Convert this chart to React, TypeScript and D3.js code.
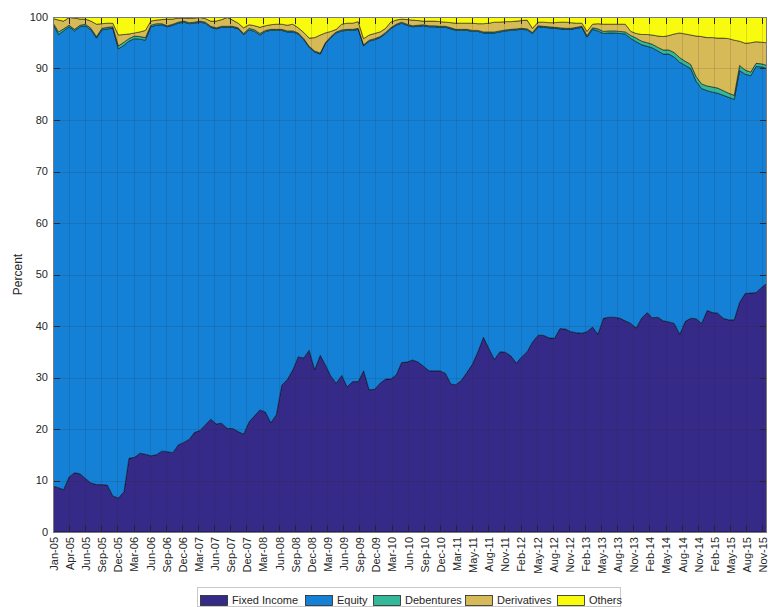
import React from 'react';
import * as d3 from 'd3';

// shares of the fund portfolio, monthly Jan-05 .. Dec-15 (percent)
const seriesNames = ['Fixed Income', 'Equity', 'Debentures', 'Derivatives', 'Others'];
const seriesColors = ['#352a87', '#1481d6', '#33b89a', '#d6ba58', '#f9fb0e'];

const fixedIncome = [
  8.9, 8.6, 8.2, 10.7, 11.5, 11.3, 10.4, 9.5, 9.2, 9.2, 9.1, 7.0,
  6.6, 7.8, 14.3, 14.5, 15.3, 15.1, 14.8, 15.0, 15.7, 15.6, 15.4, 16.9,
  17.4, 18.0, 19.3, 19.7, 20.8, 21.9, 21.0, 21.1, 20.1, 20.1, 19.5, 19.0,
  21.4, 22.6, 23.7, 23.3, 21.2, 22.8, 28.5, 29.6, 31.5, 34.0, 33.8, 35.3,
  31.5, 34.3, 32.5, 30.3, 28.9, 30.4, 28.2, 29.2, 29.2, 31.3, 27.6, 27.7,
  28.9, 29.7, 29.7, 30.5, 32.9, 33.0, 33.4, 33.0, 32.2, 31.3, 31.3, 31.3,
  30.8, 28.7, 28.6, 29.5, 31.0, 32.6, 35.0, 37.8, 35.6, 33.5, 35.0, 34.9,
  34.2, 32.8, 34.0, 35.0, 36.9, 38.2, 38.2, 37.7, 37.6, 39.5, 39.4, 38.9,
  38.7, 38.6, 38.9, 39.8, 38.4, 41.5, 41.7, 41.7, 41.5, 41.0, 40.5, 39.6,
  41.6, 42.6, 41.6, 41.7, 41.0, 40.8, 40.5, 38.4, 40.9, 41.5, 41.4, 40.5,
  43.0, 42.6, 42.5, 41.5, 41.2, 41.2, 44.6, 46.3, 46.4, 46.5, 47.5, 48.3,
];

const equity = [
  89.7, 88.0, 89.1, 87.4, 85.8, 86.8, 87.9, 88.0, 86.7, 88.3, 88.6, 90.8,
  87.2, 86.7, 81.0, 81.3, 80.4, 80.4, 83.3, 83.4, 82.8, 82.5, 83.0, 81.9,
  81.6, 80.7, 79.5, 79.3, 78.0, 76.1, 76.7, 76.9, 77.9, 77.9, 78.2, 77.6,
  76.1, 74.6, 72.8, 73.9, 76.2, 74.6, 68.9, 67.5, 65.6, 62.7, 61.8, 58.8,
  61.7, 58.5, 62.3, 65.7, 68.0, 66.9, 69.2, 68.2, 68.4, 63.1, 67.7, 67.9,
  67.1, 67.1, 68.0, 67.9, 65.9, 65.4, 64.7, 65.2, 66.1, 66.8, 66.8, 66.7,
  67.2, 69.0, 68.8, 67.9, 66.4, 64.6, 62.2, 59.1, 61.3, 63.4, 62.1, 62.4,
  63.2, 64.7, 63.6, 62.5, 59.9, 59.9, 59.8, 60.2, 60.2, 58.2, 58.2, 58.7,
  59.1, 59.4, 57.2, 57.8, 58.9, 55.3, 55.2, 55.2, 55.3, 55.7, 55.3, 55.6,
  53.0, 51.7, 52.4, 51.7, 51.8, 52.0, 51.7, 52.8, 49.7, 48.5, 46.1, 45.6,
  42.7, 42.8, 42.7, 43.3, 43.2, 42.8, 45.0, 42.6, 42.2, 43.9, 42.8, 41.7,
];

const debentures = [
  0.3, 0.5, 0.4, 0.3, 0.3, 0.3, 0.3, 0.3, 0.3, 0.3, 0.3, 0.3,
  0.6, 0.6, 0.5, 0.5, 0.5, 0.5, 0.3, 0.3, 0.2, 0.2, 0.2, 0.2,
  0.2, 0.2, 0.2, 0.2, 0.2, 0.2, 0.2, 0.2, 0.2, 0.2, 0.2, 0.2,
  0.3, 0.3, 0.3, 0.2, 0.2, 0.2, 0.2, 0.2, 0.2, 0.2, 0.2, 0.2,
  0.2, 0.2, 0.2, 0.2, 0.2, 0.2, 0.2, 0.2, 0.2, 0.2, 0.2, 0.2,
  0.2, 0.2, 0.2, 0.2, 0.2, 0.2, 0.2, 0.2, 0.2, 0.2, 0.2, 0.2,
  0.2, 0.2, 0.2, 0.2, 0.2, 0.2, 0.2, 0.2, 0.2, 0.2, 0.2, 0.2,
  0.2, 0.2, 0.2, 0.2, 0.2, 0.2, 0.2, 0.2, 0.2, 0.2, 0.2, 0.2,
  0.2, 0.2, 0.3, 0.3, 0.4, 0.4, 0.4, 0.4, 0.4, 0.4, 0.6, 0.7,
  0.7, 0.7, 0.7, 0.7, 0.8, 0.8, 0.9, 0.9, 0.8, 0.8, 0.9, 0.9,
  0.9, 1.0, 1.0, 0.9, 0.8, 0.8, 1.0, 0.8, 0.7, 0.6, 0.6, 0.6,
];

const derivatives = [
  0.8, 2.3, 1.5, 1.5, 2.2, 1.2, 1.0, 1.4, 2.4, 0.9, 0.8, 0.7,
  2.1, 1.5, 0.9, 0.6, 0.9, 1.4, 0.8, 0.7, 0.8, 1.3, 1.0, 0.8,
  0.6, 0.8, 0.8, 0.7, 0.7, 1.0, 1.3, 1.3, 1.7, 1.2, 0.9, 1.1,
  0.7, 0.8, 1.2, 0.9, 0.9, 1.0, 1.0, 1.1, 1.3, 1.0, 1.2, 1.6,
  2.6, 3.5, 1.9, 1.0, 0.5, 1.1, 1.2, 1.2, 1.3, 1.2, 1.0, 1.0,
  0.9, 0.8, 1.1, 0.8, 0.6, 0.9, 1.1, 0.9, 0.7, 0.9, 0.9, 0.9,
  0.8, 1.0, 1.2, 1.2, 1.2, 1.4, 1.3, 1.6, 1.7, 1.9, 1.7, 1.6,
  1.5, 1.5, 1.5, 1.7, 0.8, 0.7, 0.8, 0.8, 0.9, 1.1, 1.2, 1.1,
  0.8, 0.6, 0.8, 0.7, 1.0, 1.4, 1.3, 1.3, 1.4, 1.5, 0.8, 0.9,
  1.3, 1.6, 1.8, 2.2, 2.6, 2.8, 3.6, 4.8, 5.3, 5.7, 7.9, 9.2,
  9.4, 9.6, 9.7, 10.2, 10.6, 10.7, 4.7, 5.2, 5.7, 4.2, 4.2, 4.4,
];

const others = [
  0.3, 0.6, 0.8, 0.1, 0.2, 0.4, 0.4, 0.8, 1.4, 1.3, 1.2, 1.2,
  3.5, 3.4, 3.3, 3.1, 2.9, 2.6, 0.8, 0.6, 0.5, 0.4, 0.4, 0.2,
  0.2, 0.3, 0.2, 0.1, 0.3, 0.8, 0.8, 0.5, 0.1, 0.6, 1.2, 2.1,
  1.5, 1.7, 2.0, 1.7, 1.5, 1.4, 1.4, 1.6, 1.4, 2.1, 3.0, 4.1,
  4.0, 3.5, 3.1, 2.8, 2.4, 1.4, 1.2, 1.2, 0.9, 4.2, 3.5, 3.2,
  2.9, 2.2, 1.0, 0.6, 0.4, 0.5, 0.6, 0.7, 0.8, 0.8, 0.8, 0.9,
  1.0, 1.1, 1.2, 1.2, 1.2, 1.2, 1.3, 1.3, 1.2, 1.0, 1.0, 0.9,
  0.9, 0.8, 0.7, 0.6, 2.2, 1.0, 1.0, 1.1, 1.1, 1.0, 1.0, 1.1,
  1.2, 1.2, 2.8, 1.4, 1.3, 1.4, 1.4, 1.4, 1.4, 1.4, 2.8, 3.2,
  3.4, 3.4, 3.5, 3.7, 3.8, 3.6, 3.3, 3.1, 3.3, 3.5, 3.7, 3.8,
  4.0, 4.0, 4.1, 4.1, 4.2, 4.5, 4.7, 5.1, 5.0, 4.8, 4.9, 5.0,
];

// MATLAB datetick: a tick every 90 days from the first month
const tickLabels = [
  'Jan-05', 'Apr-05', 'Jun-05', 'Sep-05', 'Dec-05', 'Mar-06', 'Jun-06', 'Sep-06', 'Dec-06',
  'Mar-07', 'Jun-07', 'Sep-07', 'Dec-07', 'Mar-08', 'Jun-08', 'Sep-08', 'Dec-08', 'Mar-09',
  'Jun-09', 'Sep-09', 'Dec-09', 'Mar-10', 'Jun-10', 'Sep-10', 'Dec-10', 'Mar-11', 'May-11',
  'Aug-11', 'Nov-11', 'Feb-12', 'May-12', 'Aug-12', 'Nov-12', 'Feb-13', 'May-13', 'Aug-13',
  'Nov-13', 'Feb-14', 'May-14', 'Aug-14', 'Nov-14', 'Feb-15', 'May-15', 'Aug-15', 'Nov-15',
];
const tickStepDays = 90;

const W = 768;
const H = 607;
const plot = { left: 53, right: 767, top: 17, bottom: 532 };
const font = '"Liberation Sans", Arial, sans-serif';
const axisColor = '#262626';

export default function App() {
  const start = new Date(2005, 0, 1);
  const months = d3.timeMonth.range(start, new Date(2015, 11, 2));
  const columns = [fixedIncome, equity, debentures, derivatives, others];

  const rows = months.map((date, i) => {
    const r: any = { date };
    seriesNames.forEach((name, k) => { r[name] = columns[k][i]; });
    return r;
  });

  const x = d3.scaleTime().domain([start, months[months.length - 1]]).range([plot.left, plot.right]);
  const y = d3.scaleLinear().domain([0, 100]).range([plot.bottom, plot.top]);

  const stacked = d3.stack<any>().keys(seriesNames)(rows);
  const area = d3.area<any>()
    .x(d => x(d.data.date))
    .y0(d => y(d[0]))
    .y1(d => y(d[1]));

  const xTicks = tickLabels.map((label, i) => ({ label, date: d3.timeDay.offset(start, i * tickStepDays) }));
  const yTicks = y.ticks(10);
  const tickLen = 7;

  // legend layout
  const legendX = [200, 305, 373, 465, 557];
  const legendY = 595;

  return (
    <svg width={W} height={H} style={{ position: 'absolute', left: 0, top: 0, background: '#fff' }} fontFamily={font}>
      <defs>
        <clipPath id="plot-clip">
          <rect x={plot.left} y={plot.top} width={plot.right - plot.left} height={plot.bottom - plot.top} />
        </clipPath>
      </defs>

      <g clipPath="url(#plot-clip)">
        {stacked.map((s, k) => (
          <path key={s.key} d={area(s) || ''} fill={seriesColors[k]} stroke="#000" strokeWidth={0.6} strokeOpacity={0.85} />
        ))}
      </g>

      {/* grid on top of the areas */}
      <g stroke={axisColor} strokeOpacity={0.15} strokeWidth={1}>
        {xTicks.map(t => (
          <line key={t.label} x1={Math.round(x(t.date)) + 0.5} x2={Math.round(x(t.date)) + 0.5} y1={plot.top} y2={plot.bottom} />
        ))}
        {yTicks.map(v => (
          <line key={v} x1={plot.left} x2={plot.right} y1={Math.round(y(v)) + 0.5} y2={Math.round(y(v)) + 0.5} />
        ))}
      </g>

      {/* tick marks, mirrored on all sides */}
      <g stroke={axisColor} strokeWidth={1}>
        {yTicks.map(v => {
          const yy = Math.round(y(v)) + 0.5;
          return (
            <g key={v}>
              <line x1={plot.left} x2={plot.left + tickLen} y1={yy} y2={yy} />
              <line x1={plot.right - tickLen} x2={plot.right} y1={yy} y2={yy} />
            </g>
          );
        })}
        {xTicks.map(t => {
          const xx = Math.round(x(t.date)) + 0.5;
          return (
            <g key={t.label}>
              <line x1={xx} x2={xx} y1={plot.bottom} y2={plot.bottom - tickLen} />
              <line x1={xx} x2={xx} y1={plot.top} y2={plot.top + tickLen} />
            </g>
          );
        })}
      </g>

      <rect x={plot.left + 0.5} y={plot.top + 0.5} width={plot.right - plot.left - 1} height={plot.bottom - plot.top}
        fill="none" stroke="#7a7a7a" strokeWidth={1} />

      {/* y labels */}
      <g fontSize={11} fill={axisColor} textAnchor="end">
        {yTicks.map(v => (
          <text key={v} x={plot.left - 5} y={y(v)} dy="0.35em">{v}</text>
        ))}
      </g>
      <text transform={`translate(18,${(plot.top + plot.bottom) / 2}) rotate(-90)`} textAnchor="middle"
        fontSize={12} fill={axisColor} dy="0.35em">Percent</text>

      {/* x labels, rotated */}
      <g fontSize={11} fill={axisColor} textAnchor="end">
        {xTicks.map(t => (
          <text key={t.label} transform={`translate(${x(t.date) + 1},${plot.bottom + 5}) rotate(-90)`} dy="0.35em">{t.label}</text>
        ))}
      </g>

      {/* legend */}
      <rect x={197.5} y={587.5} width={423} height={19} fill="#fff" stroke="#c8c8c8" strokeWidth={1} />
      {seriesNames.map((name, k) => (
        <g key={name}>
          <rect x={legendX[k] + 0.5} y={legendY + 0.5} width={27} height={10} fill={seriesColors[k]} stroke="#262626" strokeWidth={0.8} />
          <text x={legendX[k] + 32} y={legendY + 5} dy="0.35em" fontSize={11} fill={axisColor}>{name}</text>
        </g>
      ))}
    </svg>
  );
}
